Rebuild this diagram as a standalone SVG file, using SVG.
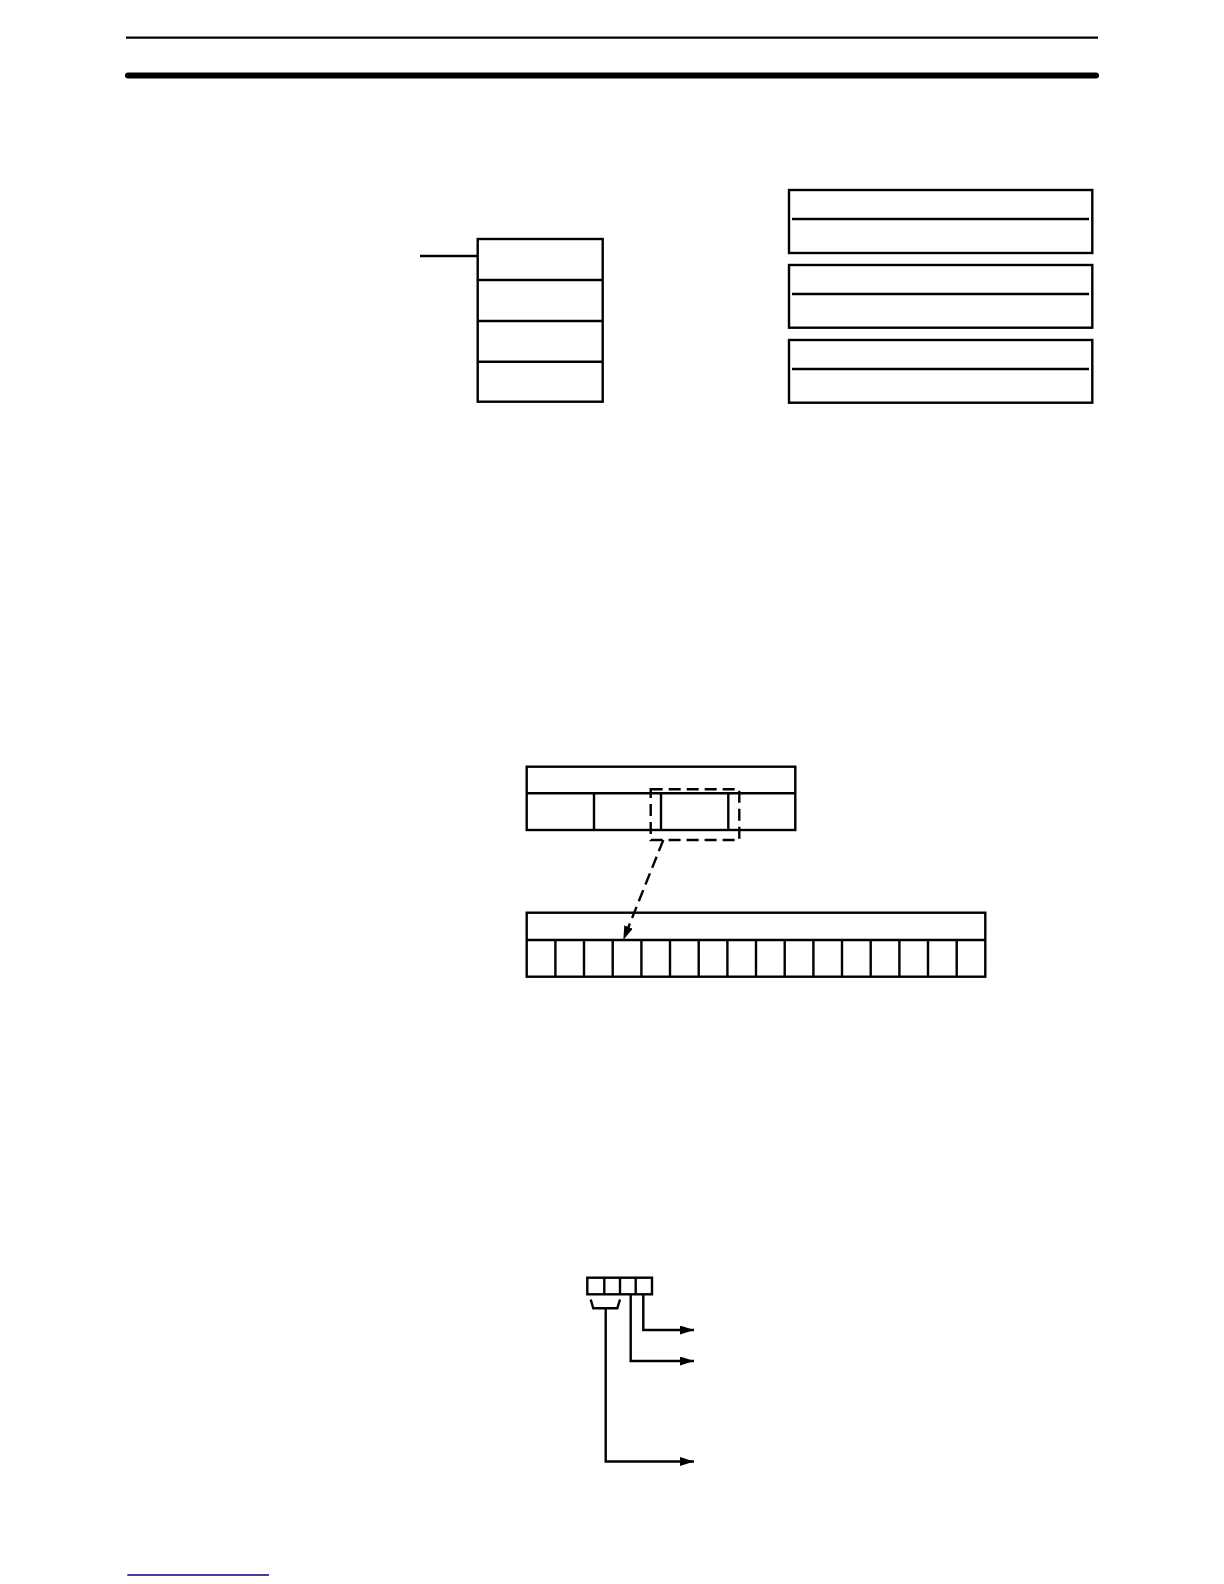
<svg xmlns="http://www.w3.org/2000/svg" width="1224" height="1584" viewBox="0 0 1224 1584">
<style>
.b{fill:none;stroke:#000;stroke-width:2.4}
.l{stroke:#000;stroke-width:2.4;fill:none}
.d{stroke:#000;stroke-width:2.4;fill:none;stroke-dasharray:12,6}
</style>
<defs>
<marker id="ah" viewBox="0 0 14 9" refX="14" refY="4.5" markerWidth="14" markerHeight="9" markerUnits="userSpaceOnUse" orient="auto">
<path d="M0,0 L14,4.5 L0,9 Z" fill="#000"/>
</marker>
</defs>
<rect width="1224" height="1584" fill="#fff"/>
<g id="header">
<line x1="126" y1="37.7" x2="1098" y2="37.7" stroke="#000" stroke-width="2.2"/>
<line x1="128" y1="75.5" x2="1096" y2="75.5" stroke="#000" stroke-width="6" stroke-linecap="round"/>
</g>
<g id="stack">
<rect class="b" x="477.7" y="239" width="125" height="162.7"/>
<line class="l" x1="477.7" y1="280" x2="602.7" y2="280"/>
<line class="l" x1="477.7" y1="321" x2="602.7" y2="321"/>
<line class="l" x1="477.7" y1="361.7" x2="602.7" y2="361.7"/>
</g>
<g id="box1">
<rect class="b" x="789" y="190" width="303.3" height="63"/>
<line class="l" x1="792" y1="219" x2="1089" y2="219" stroke-width="2.8"/>
</g>
<g id="box2">
<rect class="b" x="789" y="265" width="303.3" height="62.7"/>
<line class="l" x1="792" y1="294" x2="1089" y2="294" stroke-width="2.8"/>
</g>
<g id="box3">
<rect class="b" x="789" y="340" width="303.3" height="62.7"/>
<line class="l" x1="792" y1="369" x2="1089" y2="369" stroke-width="2.8"/>
</g>
<g id="word">
<rect class="b" x="526.7" y="766.7" width="268.6" height="63.3"/>
<line class="l" x1="526.7" y1="793.3" x2="795.3" y2="793.3"/>
<line class="l" x1="594" y1="793.3" x2="594" y2="830"/>
<line class="l" x1="661" y1="793.3" x2="661" y2="830"/>
<line class="l" x1="728.3" y1="793.3" x2="728.3" y2="830"/>
</g>
<g id="selection">
<rect class="d" x="650.7" y="789.3" width="88.6" height="50.7"/>
</g>
<g id="bits">
<rect class="b" x="526.7" y="912.7" width="458.6" height="64"/>
<line class="l" x1="526.7" y1="940" x2="985.3" y2="940"/>
<path class="l" d="M555.4,940V976.7M584,940V976.7M612.7,940V976.7M641.4,940V976.7M670,940V976.7M698.7,940V976.7M727.4,940V976.7M756,940V976.7M784.7,940V976.7M813.4,940V976.7M842,940V976.7M870.7,940V976.7M899.4,940V976.7M928,940V976.7M956.7,940V976.7"/>
</g>
<g id="digits">
<rect class="b" x="587.3" y="1277.7" width="64.7" height="16.6"/>
<path class="l" d="M604.3,1277.7V1294.3M620,1277.7V1294.3M635.7,1277.7V1294.3"/>
<path class="l" d="M590.7,1299.5L593.3,1308.3H617.3L620,1299.5"/>
</g>
<g id="connectors">
<line class="l" x1="420" y1="256" x2="477.7" y2="256"/>
<line class="d" x1="663.3" y1="840" x2="623.3" y2="940" marker-end="url(#ah)"/>
<path class="l" d="M643.3,1294.3V1330H694" marker-end="url(#ah)"/>
<path class="l" d="M630.7,1294.3V1361H694" marker-end="url(#ah)"/>
<path class="l" d="M605.7,1308.3V1461.5H694" marker-end="url(#ah)"/>
</g>
<g id="footer">
<line x1="127.3" y1="1575" x2="269" y2="1575" stroke="#000080" stroke-width="1.5"/>
</g>
</svg>
